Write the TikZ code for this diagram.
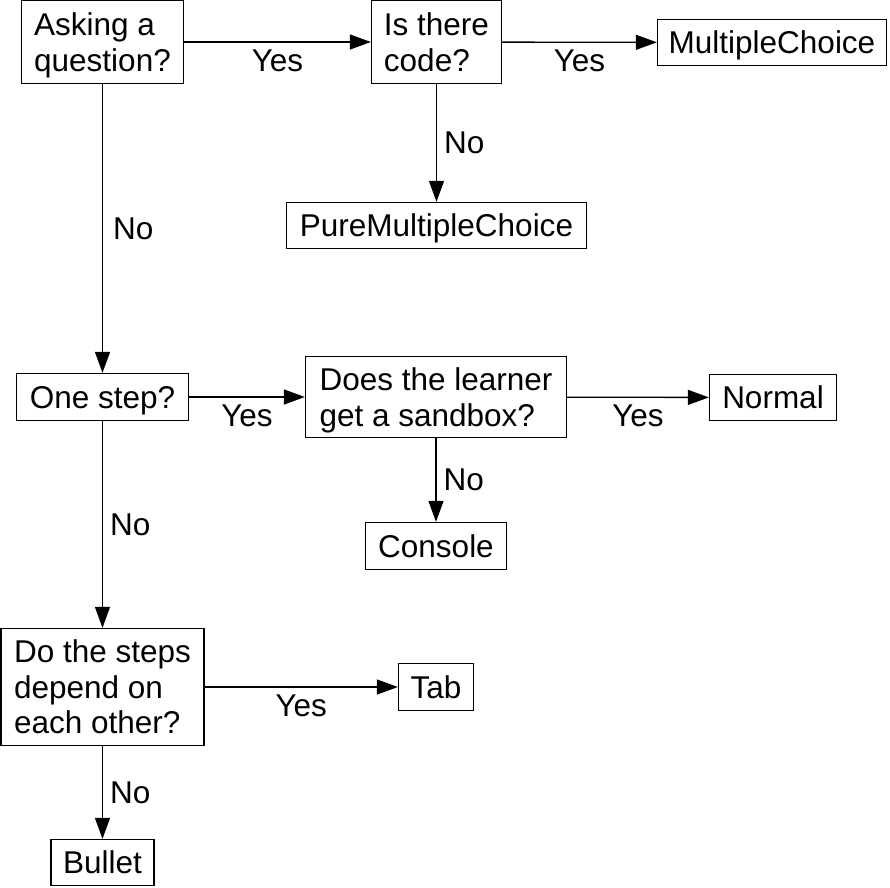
\documentclass[tikz,border=0pt]{standalone}
\usepackage{fontspec}
\setmainfont{Liberation Sans}
\usetikzlibrary{arrows.meta}
\begin{document}
\begin{tikzpicture}[x=1pt,y=-1pt,
  font=\fontsize{31.5}{35.5}\selectfont,
  box/.style={draw,line width=1.3pt,inner sep=0pt,align=left,text depth=0pt},
  conn/.style={line width=1.3pt,-{Triangle[length=21pt,width=15pt]}},
  yes/.style={midway,anchor=north,inner sep=0pt,yshift=-7pt},
  no/.style={midway,anchor=west,inner sep=0pt,xshift=7pt}]
\useasboundingbox (0,0) rectangle (890,887);
\node[box,minimum width=162pt,minimum height=83pt] (ask) at (102.5,42) {Asking a\\question?};
\node[box,minimum width=130pt,minimum height=83pt] (code) at (436.5,42) {Is there\\code?};
\node[box,minimum width=229pt,minimum height=46pt] (mc) at (772,42.5) {MultipleChoice};
\node[box,minimum width=300pt,minimum height=46pt] (pmc) at (436.5,225.5) {PureMultipleChoice};
\node[box,minimum width=172pt,minimum height=47pt] (one) at (102.5,397) {One step?};
\node[box,minimum width=261pt,minimum height=81pt] (sand) at (436,397) {Does the learner\\get a sandbox?};
\node[box,minimum width=127pt,minimum height=46pt] (normal) at (773,397.5) {Normal};
\node[box,minimum width=141pt,minimum height=47pt] (console) at (436,546) {Console};
\node[box,minimum width=203pt,minimum height=117pt] (dep) at (102.5,687) {Do the steps\\depend on\\each other?};
\node[box,minimum width=75pt,minimum height=47pt] (tab) at (436,687) {Tab};
\node[box,minimum width=103pt,minimum height=46pt] (bullet) at (102.5,862.5) {Bullet};

\draw[conn] (ask) -- node[yes] {Yes} (code);
\draw[conn] (code) -- node[yes] {Yes} (mc);
\draw[conn] (code) -- node[no] {No} (pmc);
\draw[conn] (ask) -- node[no,xshift=3pt] {No} (one);
\draw[conn] (one) -- node[yes] {Yes} (sand);
\draw[conn] (sand) -- node[yes] {Yes} (normal);
\draw[conn] (sand) -- node[no] {No} (console);
\draw[conn] (one) -- node[no] {No} (dep);
\draw[conn] (dep) -- node[yes] {Yes} (tab);
\draw[conn] (dep) -- node[no] {No} (bullet);
\end{tikzpicture}
\end{document}
